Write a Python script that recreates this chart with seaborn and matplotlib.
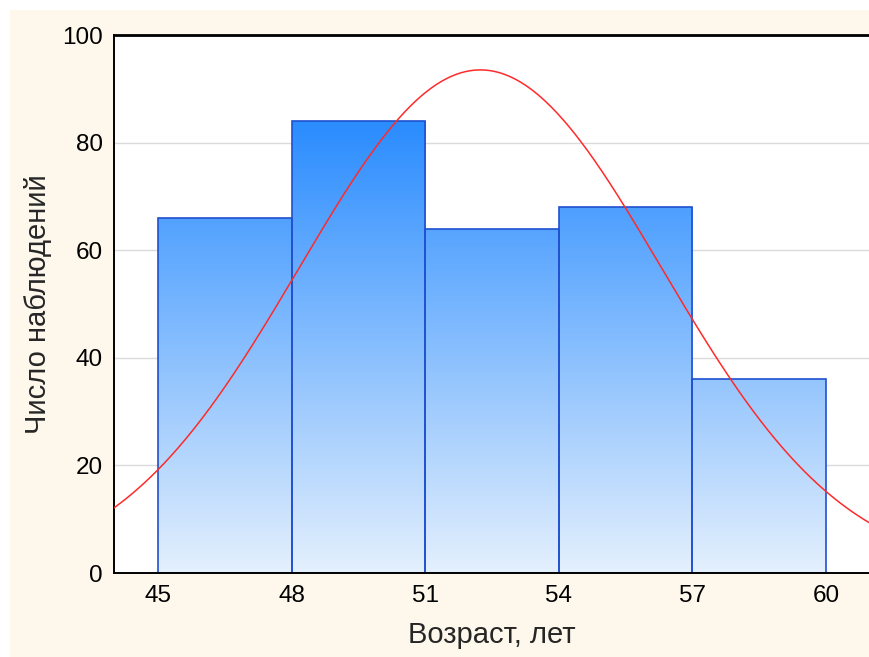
import numpy as np
import pandas as pd
import matplotlib
matplotlib.use("Agg")
import matplotlib.pyplot as plt
from matplotlib.colors import LinearSegmentedColormap
from matplotlib.patches import Rectangle
import seaborn as sns

# Age bins and counts
bin_edges = [45, 48, 51, 54, 57, 60]
counts = [66, 84, 64, 68, 36]
x_ticks = [45, 48, 51, 54, 57, 60]
y_ticks = [0, 20, 40, 60, 80, 100]

# Fitted normal curve parameters
n_obs = sum(counts)
fit_mean = 52.24
fit_sd = 4.07

sns.set_theme(style="white")
plt.rcParams["font.family"] = ["Liberation Sans", "DejaVu Sans"]

fig = plt.figure(figsize=(8.69, 6.57), dpi=100)
fig.patch.set_facecolor("white")
# cream panel behind the chart
fig.add_artist(Rectangle((10 / 869, 0), 1, 1 - 10 / 657, transform=fig.transFigure,
                         facecolor="#FEF8EC", edgecolor="none", zorder=-10))

ax = fig.add_axes([114 / 869, 1 - 573 / 657, 1 - 114 / 869, (573 - 35) / 657])
ax.set_facecolor("white")

centers = [(a + b) / 2 for a, b in zip(bin_edges[:-1], bin_edges[1:])]
df = pd.DataFrame({"age": centers, "count": counts})
sns.histplot(data=df, x="age", weights="count", bins=bin_edges, ax=ax,
             stat="count", element="bars", fill=True,
             facecolor="none", edgecolor="#2050D0", linewidth=1.2, alpha=1)

# vertical gradient fill clipped to each bar
cmap = LinearSegmentedColormap.from_list("blues", ["#E4F0FD", "#2A8CFF"])
grad = np.linspace(0, 1, 256).reshape(-1, 1)
top_val = max(counts)
for patch in list(ax.patches):
    im = ax.imshow(grad, cmap=cmap, origin="lower", aspect="auto",
                   extent=[bin_edges[0], bin_edges[-1], 0, top_val], zorder=1)
    im.set_clip_path(patch)
    patch.set_zorder(2)

# normal curve
xs = np.linspace(43.5, 61.5, 400)
ys = n_obs * 3 / (fit_sd * np.sqrt(2 * np.pi)) * np.exp(-0.5 * ((xs - fit_mean) / fit_sd) ** 2)
sns.lineplot(x=xs, y=ys, ax=ax, color="#FF2A2A", linewidth=1.1, zorder=3)

ax.set_xlim(44.01, 60.97)
ax.set_ylim(0, 100)
ax.set_xticks(x_ticks)
ax.set_yticks(y_ticks)
ax.yaxis.grid(True, color="#DADADA", linewidth=1)
ax.set_axisbelow(True)
ax.tick_params(axis="both", labelsize=17.5, colors="black", length=0)
ax.tick_params(axis="x", pad=9)
ax.tick_params(axis="y", pad=8)
ax.set_xlabel("Возраст, лет", fontsize=21, labelpad=10)
ax.set_ylabel("Число наблюдений", fontsize=21, labelpad=7)

for side in ["left", "top", "bottom"]:
    ax.spines[side].set_visible(True)
    ax.spines[side].set_color("black")
ax.spines["left"].set_linewidth(1.4)
ax.spines["bottom"].set_linewidth(1.4)
ax.spines["top"].set_linewidth(2.0)
ax.spines["right"].set_visible(False)

fig.savefig("out.png", dpi=100, facecolor=fig.get_facecolor())
